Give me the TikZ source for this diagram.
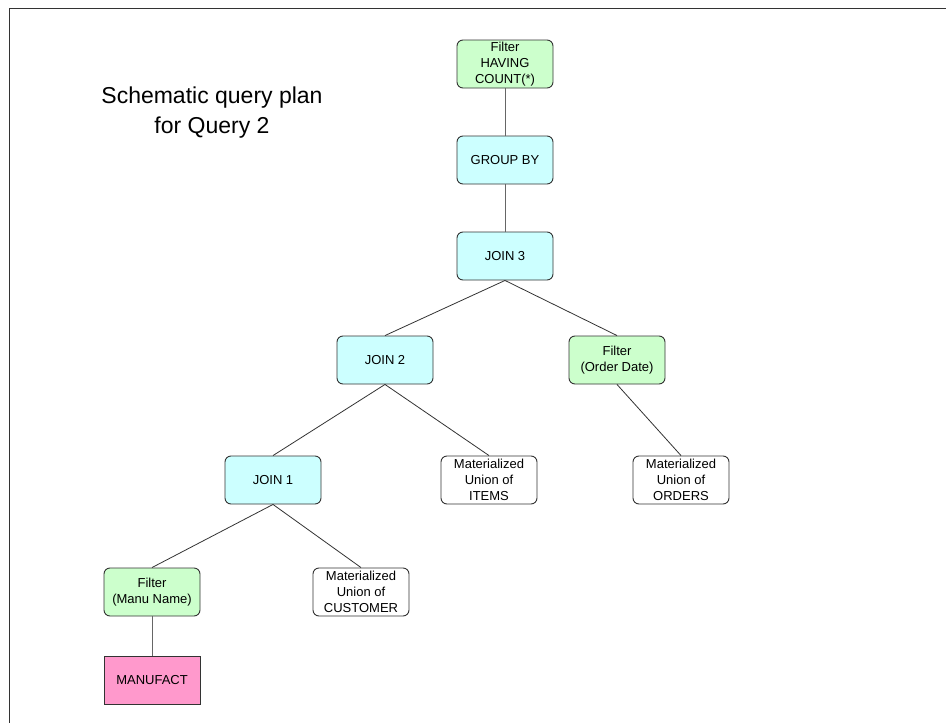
\documentclass[tikz,border=0pt]{standalone}
\usepackage{fontspec}
\setmainfont{Liberation Sans}
\definecolor{filtergreen}{HTML}{CCFFCC}
\definecolor{joincyan}{HTML}{CCFFFF}
\definecolor{tablepink}{HTML}{FF99CC}
\definecolor{edgegray}{HTML}{333333}
\begin{document}
\begin{tikzpicture}[x=1pt,y=-1pt,
  opbox/.style={draw=edgegray, line width=0.9pt, rounded corners=6pt, minimum width=96pt, minimum height=48pt,
     inner sep=0pt, align=center, font=\fontsize{13}{16}\selectfont},
  filterbox/.style={opbox, fill=filtergreen},
  joinbox/.style={opbox, fill=joincyan},
  unionbox/.style={opbox, fill=white},
  tablebox/.style={opbox, fill=tablepink, rounded corners=0pt},
  link/.style={draw=black!80, line width=0.8pt},
  vlink/.style={draw=black!60, line width=1pt}]
\useasboundingbox (0,0) rectangle (946,723);
\fill[white] (0,0) rectangle (946,723);
% frame
\draw[edgegray, line width=1.4pt] (9.5,723) -- (9.5,8.5) -- (946,8.5);
% title
\node[inner sep=0pt, align=center, font=\fontsize{23}{30}\selectfont] (title) at (212,113) {Schematic query plan\\for Query 2};
% nodes
\node[filterbox] (having) at (505,64) {Filter\\HAVING\\COUNT(*)};
\node[joinbox] (groupby) at (505,160) {GROUP BY};
\node[joinbox] (join3) at (505,256) {JOIN 3};
\node[joinbox] (join2) at (385,360) {JOIN 2};
\node[filterbox] (forder) at (617,360) {Filter\\(Order Date)};
\node[joinbox] (join1) at (273,480) {JOIN 1};
\node[unionbox] (items) at (489,480) {Materialized\\Union of\\ITEMS};
\node[unionbox] (orders) at (681,480) {Materialized\\Union of\\ORDERS};
\node[filterbox] (fmanu) at (152,592) {Filter\\(Manu Name)};
\node[unionbox] (customer) at (361,592) {Materialized\\Union of\\CUSTOMER};
\node[tablebox] (manufact) at (152,680) {MANUFACT};
% connectors
\draw[vlink] (having.south) -- (groupby.north);
\draw[vlink] (groupby.south) -- (join3.north);
\draw[link] (join3.south) -- (join2.north);
\draw[link] (join3.south) -- (forder.north);
\draw[link] (join2.south) -- (join1.north);
\draw[link] (join2.south) -- (items.north);
\draw[link] (forder.south) -- (orders.north);
\draw[link] (join1.south) -- (fmanu.north);
\draw[link] (join1.south) -- (customer.north);
\draw[vlink] (fmanu.south) -- (manufact.north);
\end{tikzpicture}
\end{document}
